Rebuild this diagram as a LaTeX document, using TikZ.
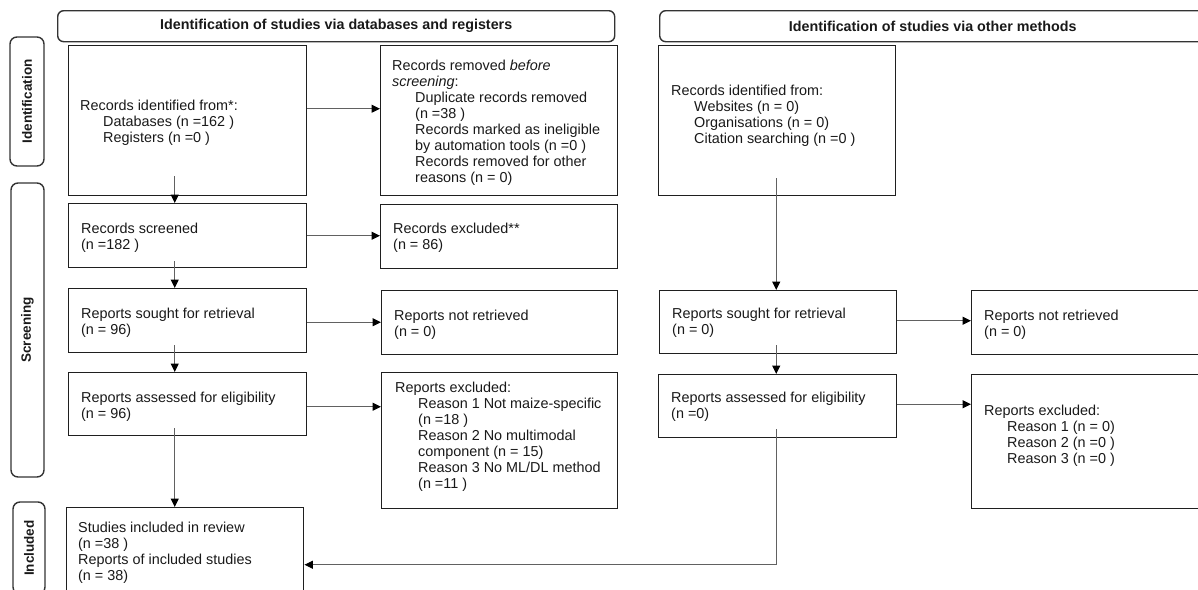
\documentclass[tikz,border=0pt]{standalone}
\usepackage{fontspec}
\setmainfont{Liberation Sans}
\usetikzlibrary{arrows.meta,calc}
\newcommand\mylines[1]{\begin{tabular}[t]{@{}l@{}}#1\end{tabular}}
\newcommand\ind{\hspace*{23pt}}
\begin{document}
\begin{tikzpicture}[x=1pt,y=-1pt,
  box/.style={draw=black!88, line width=1.45pt, inner sep=0pt, anchor=north west},
  hdr/.style={draw=black!80, line width=1.4pt, rounded corners=6pt, inner sep=0pt, anchor=north west,
    font=\fontsize{14.3}{16}\selectfont\bfseries, text=black!90},
  phase/.style={draw=black!80, line width=1.4pt, rounded corners=7pt, inner sep=0pt, rotate=90,
    font=\fontsize{13.5}{16}\selectfont\bfseries, text=black!90},
  txt/.style={anchor=base west, inner sep=0pt, font=\fontsize{14.4}{16}\selectfont, text=black!90},
  arr/.style={draw=black!62, line width=1pt, -{Triangle[length=8.5pt,width=8pt,color=black]}},
  link/.style={draw=black!62, line width=1pt}
]
\useasboundingbox (0,0) rectangle (1198,589);
\clip (0,0) rectangle (1198,589);

% headers
\node[hdr, minimum width=557pt, minimum height=31pt] (H1) at (57,10) {Identification of studies via databases and registers};
\node[hdr, minimum width=546pt, minimum height=31pt] (H2) at (659,10) {Identification of studies via other methods};

% phase labels
\node[phase, minimum width=129pt, minimum height=34pt] (P1) at (27,101.5) {Identification};
\node[phase, minimum width=294pt, minimum height=33pt] (P2) at (27.5,330) {Screening};
\node[phase, minimum width=92pt, minimum height=32pt] (P3) at (29,548) {Included};

% left column boxes
\node[box, minimum width=238pt, minimum height=150pt] (B1) at (68,45) {};
\node[box, minimum width=237pt, minimum height=150pt] (B2) at (380,45) {};
\node[box, minimum width=238pt, minimum height=64pt] (B3) at (68,203) {};
\node[box, minimum width=237pt, minimum height=64pt] (B4) at (380,204) {};
\node[box, minimum width=238pt, minimum height=64pt] (B5) at (68,288) {};
\node[box, minimum width=236pt, minimum height=64pt] (B6) at (381,290) {};
\node[box, minimum width=238pt, minimum height=63pt] (B7) at (68,372) {};
\node[box, minimum width=236pt, minimum height=136pt] (B8) at (381,372) {};
\node[box, minimum width=237pt, minimum height=88pt] (B9) at (66,507) {};

% right column boxes
\node[box, minimum width=237pt, minimum height=150pt] (C1) at (658,45) {};
\node[box, minimum width=237pt, minimum height=63pt] (C2) at (659,290) {};
\node[box, minimum width=245pt, minimum height=64pt] (C3) at (971,290) {};
\node[box, minimum width=238pt, minimum height=63pt] (C4) at (658,374) {};
\node[box, minimum width=245pt, minimum height=134pt] (C5) at (971,374) {};

% texts
\node[txt] (T1) at (80,110) {\mylines{Records identified from*:\\ \ind Databases (n =162 )\\ \ind Registers (n =0 )}};
\node[txt] (T2) at (392,70) {\mylines{Records removed \textit{before}\\ \textit{screening}:\\ \ind Duplicate records removed\\ \ind (n =38 )\\ \ind Records marked as ineligible\\ \ind by automation tools (n =0 )\\ \ind Records removed for other\\ \ind reasons (n = 0)}};
\node[txt] (T3) at (81,233) {\mylines{Records screened\\ (n =182 )}};
\node[txt] (T4) at (393,233) {\mylines{Records excluded**\\ (n = 86)}};
\node[txt] (T5) at (81,318) {\mylines{Reports sought for retrieval\\ (n = 96)}};
\node[txt] (T6) at (394,320) {\mylines{Reports not retrieved\\ (n = 0)}};
\node[txt] (T7) at (81,402) {\mylines{Reports assessed for eligibility\\ (n = 96)}};
\node[txt] (T8) at (395,392) {\mylines{Reports excluded:\\ \ind Reason 1 Not maize-specific\\ \ind (n =18 )\\ \ind Reason 2 No multimodal\\ \ind component (n = 15)\\ \ind Reason 3 No ML/DL method\\ \ind (n =11 )}};
\node[txt] (T9) at (78,532) {\mylines{Studies included in review\\ (n =38 )\\ Reports of included studies\\ (n = 38)}};
\node[txt] (U1) at (671,95) {\mylines{Records identified from:\\ \ind Websites (n = 0)\\ \ind Organisations (n = 0)\\ \ind Citation searching (n =0 )}};
\node[txt] (U2) at (672,318) {\mylines{Reports sought for retrieval\\ (n = 0)}};
\node[txt] (U3) at (984,320) {\mylines{Reports not retrieved\\ (n = 0)}};
\node[txt] (U4) at (671,402) {\mylines{Reports assessed for eligibility\\ (n =0)}};
\node[txt] (U5) at (984,415) {\mylines{Reports excluded:\\ \ind Reason 1 (n = 0)\\ \ind Reason 2 (n =0 )\\ \ind Reason 3 (n =0 )}};

% left column connectors
\draw[arr] ([yshift=12pt]B1.east) -- ([yshift=12pt]B1.east -| B2.west);
\draw[arr] (B3.east) -- (B3.east -| B4.west);
\draw[arr] ([yshift=-1.5pt]B5.east) -- ([yshift=-1.5pt]B5.east -| B6.west);
\draw[arr] ([yshift=-2.5pt]B7.east) -- ([yshift=-2.5pt]B7.east -| B8.west);
\draw[arr] ([xshift=-13pt,yshift=20pt]B1.south) -- ([xshift=-13pt]B1.south |- B3.north);
\draw[arr] ([xshift=-13pt,yshift=7pt]B3.south) -- ([xshift=-13pt]B3.south |- B5.north);
\draw[arr] ([xshift=-13pt,yshift=8pt]B5.south) -- ([xshift=-13pt]B5.south |- B7.north);
\draw[arr] ([xshift=-13pt,yshift=8pt]B7.south) -- ([xshift=-13pt]B7.south |- B9.north);

% right column connectors
\draw[arr] ([xshift=-1pt,yshift=18pt]C1.south) -- ([xshift=-1pt]C1.south |- C2.north);
\draw[arr] ([xshift=-2pt,yshift=9pt]C2.south) -- ([xshift=-2pt]C2.south |- C4.north);
\draw[arr] ([yshift=1.5pt]C2.east) -- ([yshift=1.5pt]C2.east -| C3.west);
\draw[arr] ([yshift=2pt]C4.east) -- ([yshift=2pt]C4.east -| C5.west);
\draw[arr] ([xshift=-1.5pt,yshift=9pt]C4.south) |- ([yshift=-13pt]B9.east);
\end{tikzpicture}
\end{document}
